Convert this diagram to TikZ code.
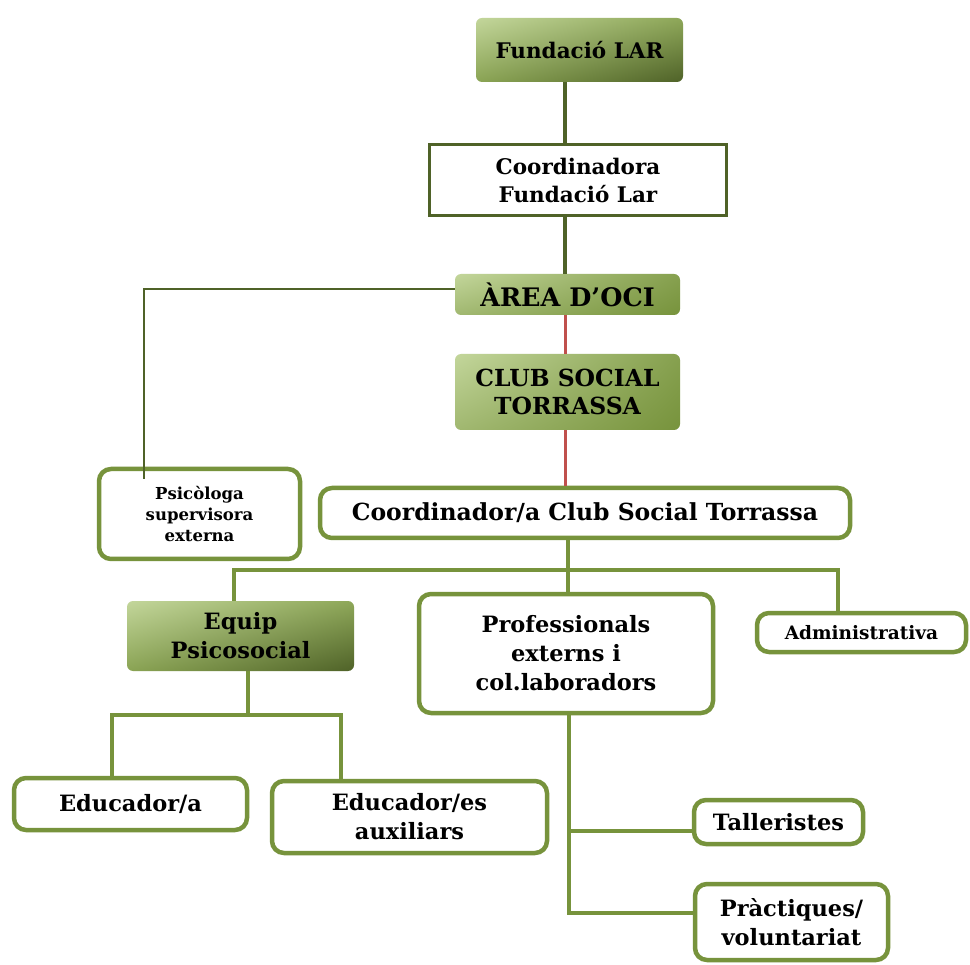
\documentclass[tikz,border=0pt]{standalone}
\usepackage{fontspec}
\setmainfont{DejaVu Serif}
\usetikzlibrary{calc,shadings}
\definecolor{olv}{HTML}{77933C}
\definecolor{dkolv}{HTML}{4F6228}
\definecolor{ltolv}{HTML}{C3D69B}
\definecolor{redl}{HTML}{C0504D}
\tikzset{
  base/.style={align=center, inner sep=0pt, font=\bfseries\fontsize{22.5}{29}\selectfont},
  wbox/.style={base, draw=olv, line width=4.5pt, rounded corners=12pt, fill=white},
  dbox/.style={base, draw=dkolv, line width=3.5pt, fill=white},
  gdark/.style={base, rounded corners=6pt, upper left=ltolv, upper right=olv!70!ltolv, lower left=olv!75!ltolv, lower right=dkolv},
  glight/.style={base, rounded corners=6pt, upper left=ltolv, upper right=olv!80!ltolv, lower left=olv!45!ltolv, lower right=olv},
  gline/.style={draw=olv, line width=3.5pt},
  dline/.style={draw=dkolv, line width=3.5pt},
  rline/.style={draw=redl, line width=3pt},
  thinline/.style={draw=dkolv, line width=2pt},
}
\begin{document}
\begin{tikzpicture}[x=1pt, y=-1pt]
\fill[white] (0,0) rectangle (970,965);
\useasboundingbox (0,0) rectangle (970,965);
% nodes
\node[gdark, minimum width=207, minimum height=64, font=\bfseries\fontsize{21.5}{28}\selectfont] (fund) at (579.5,50) {Fundació LAR};
\node[dbox, minimum width=297, minimum height=71, font=\bfseries\fontsize{21.5}{28}\selectfont] (coord) at (578,180) {Coordinadora\\Fundació Lar};
\node[glight, minimum width=225, minimum height=41, font=\bfseries\fontsize{25.5}{29}\selectfont] (area) at (567.5,294.5) {ÀREA D’OCI};
\node[glight, minimum width=225, minimum height=76, font=\bfseries\fontsize{23.5}{28}\selectfont] (club) at (567.5,392) {CLUB SOCIAL\\TORRASSA};
\node[wbox, minimum width=201, minimum height=90, font=\bfseries\fontsize{16.5}{21}\selectfont] (psi) at (199.5,514) {Psicòloga\\supervisora\\externa};
\node[wbox, minimum width=530, minimum height=50, font=\bfseries\fontsize{23.5}{29}\selectfont] (ccst) at (585,513) {Coordinador/a Club Social Torrassa};
\node[gdark, minimum width=227, minimum height=70] (equip) at (240.5,636) {Equip\\Psicosocial};
\node[wbox, minimum width=294, minimum height=119] (prof) at (566,653.5) {Professionals\\externs i\\col.laboradors};
\node[wbox, minimum width=209, minimum height=39, font=\bfseries\fontsize{18.5}{22}\selectfont] (admin) at (861.5,632.5) {Administrativa};
\node[wbox, minimum width=233, minimum height=52] (edu) at (130.5,804) {Educador/a};
\node[wbox, minimum width=275, minimum height=72] (eduaux) at (409.5,817) {Educador/es\\auxiliars};
\node[wbox, minimum width=169, minimum height=44] (tall) at (778.5,822) {Talleristes};
\node[wbox, minimum width=193, minimum height=76] (prac) at (791.5,922) {Pràctiques/\\voluntariat};
% coordinates
\coordinate (xt) at (565,0);
\coordinate (ap) at (144,289);
\coordinate (bus) at (568,570);
\coordinate (xa) at (234,570);
\coordinate (xb) at (838,570);
\coordinate (eb) at (248,715);
\coordinate (el) at (112,715);
\coordinate (er) at (341,715);
\coordinate (pt) at (569,831);
\coordinate (pp) at (569,913);
% connectors
\draw[dline] (fund.south -| xt) -- (coord.north -| xt);
\draw[dline] (coord.south -| xt) -- (area.north -| xt);
\draw[rline] (area.south -| xt) -- (club.north -| xt);
\draw[rline] (club.south -| xt) -- (ccst.north -| xt);
\draw[thinline] (area.west |- ap) -- (ap) -- ($(ap |- psi.north)+(0,12)$);
\draw[gline] (ccst.south -| bus) -- (prof.north -| bus);
\draw[gline] (xa |- equip.north) -- (xa) -- (xb) -- (xb |- admin.north);
\draw[gline] (equip.south -| eb) -- (eb);
\draw[gline] (el |- edu.north) -- (el) -- (er) -- (er |- eduaux.north);
\draw[gline] (prof.south -| pt) -- (pp) -- (pp -| prac.west);
\draw[gline] (pt) -- (pt -| tall.west);
\end{tikzpicture}
\end{document}
